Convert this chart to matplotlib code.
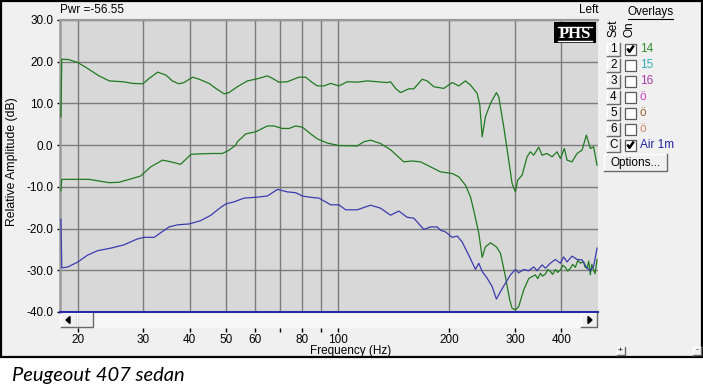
import matplotlib
matplotlib.use('Agg')
import matplotlib.pyplot as plt
from matplotlib.patches import Rectangle, Polygon
from matplotlib.ticker import NullLocator, FixedLocator, FixedFormatter

# ---------------- data ----------------
freq_a = [18.0, 18.1, 18.2, 18.9, 20.0, 21.4, 22.8, 24.3, 26.4, 28.1, 29.9, 31.1, 32.8, 34.5,
          35.9, 37.4, 38.6, 40.7, 42.4, 45.1, 47.0, 49.5, 51.0, 53.7, 57.2, 60.8, 64.7, 66.8,
          69.5, 73.2, 78.7, 82.0, 85.5, 88.2, 91.9, 95.8, 100.8, 106.2, 112.9, 120.2, 127.8,
          136.0, 138.8, 143.2, 147.7, 155.5, 160.3, 168.9, 174.2, 181.5, 193.1, 203.4, 211.9,
          220.8, 227.8, 237.4, 241.3, 244.9, 249.9, 257.8, 267.5, 271.4, 279.9, 286.9, 294.8,
          300.9, 305.2, 313.6, 323.5, 330.1, 337.0, 347.6, 355.0, 366.1, 377.7, 389.5, 397.6,
          407.5, 414.4, 427.4, 440.9, 454.7, 467.1, 478.7, 488.6, 499.0]
db_a = [6.8, 20.6, 20.6, 20.5, 19.8, 18.2, 16.6, 15.4, 15.2, 14.8, 14.7, 16.0, 17.5, 16.8,
        15.4, 14.7, 15.0, 16.3, 15.8, 14.8, 13.6, 12.3, 12.6, 14.0, 15.4, 15.9, 16.6, 16.0,
        15.1, 15.2, 16.3, 16.3, 15.0, 14.2, 14.2, 14.8, 14.2, 15.2, 15.1, 15.4, 15.2,
        15.0, 15.2, 13.6, 12.6, 13.5, 13.5, 15.8, 15.4, 14.0, 13.6, 15.0, 14.2,
        15.4, 14.4, 12.4, 9.6, 2.0, 6.8, 10.0, 12.6, 11.6, 4.4, -2.0, -9.2,
        -11.2, -8.4, -7.2, -2.8, -1.6, -2.4, -0.5, -2.4, -2.0, -2.8, -1.6, -3.2,
        -0.8, -3.6, -4.0, -2.0, -1.2, 2.4, -0.8, -0.4, -4.8]

freq_b = [18.0, 18.1, 18.2, 21.4, 22.8, 24.3, 25.8, 27.5, 29.5, 31.4, 33.8, 35.6, 37.8, 40.3,
          42.4, 46.0, 49.0, 51.0, 53.2, 53.7, 56.6, 60.2, 64.7, 67.4, 71.0, 74.0, 77.1, 80.4,
          84.6, 88.2, 93.8, 100.8, 112.9, 117.6, 122.6, 130.4, 138.8, 150.7, 158.8, 167.1,
          177.8, 189.2, 203.4, 211.9, 220.8, 227.8, 232.4, 239.8, 244.9, 249.9, 257.8, 267.5,
          274.3, 282.8, 290.5, 294.8, 300.9, 307.1, 316.8, 326.7, 333.7, 340.6, 345.5, 351.3,
          356.0, 362.3, 368.0, 373.7, 379.0, 385.4, 391.0, 397.6, 404.0, 410.1, 416.0, 423.0,
          429.0, 436.3, 443.0, 450.1, 459.3, 463.0, 469.1, 474.0, 478.7, 483.0, 488.6, 493.0,
          499.0]
db_b = [-10.9, -8.2, -8.2, -8.2, -8.6, -9.0, -8.9, -8.2, -7.4, -5.2, -3.6, -4.0, -4.6, -2.2,
        -2.1, -2.0, -2.0, -1.2, 0.0, 0.8, 2.7, 3.2, 4.6, 4.6, 4.0, 4.0, 4.6, 4.3,
        2.7, 1.5, 0.5, -0.1, -0.2, 0.8, 1.2, 0.4, -1.1, -4.0, -3.8, -4.0,
        -5.2, -6.4, -6.8, -7.6, -9.6, -12.4, -15.6, -21.1, -26.9, -24.4, -23.4, -24.4,
        -25.9, -31.5, -37.1, -39.1, -39.5, -38.7, -34.7, -32.0, -31.5, -31.1, -32.0, -30.7,
        -31.4, -30.9, -29.8, -30.3, -31.0, -29.8, -30.5, -29.9, -28.8, -29.3, -30.2, -29.5,
        -28.6, -29.3, -27.6, -28.3, -27.9, -29.2, -29.5, -27.8, -31.1, -28.6, -29.9, -30.8,
        -27.4]

freq_c = [18.0, 18.1, 18.2, 18.8, 20.0, 21.2, 22.6, 24.5, 26.6, 28.9, 30.1, 32.1, 33.4, 35.2,
          37.1, 39.8, 42.8, 45.6, 48.0, 50.0, 52.6, 56.0, 60.2, 64.7, 68.9, 73.2, 77.1, 80.4,
          84.6, 89.1, 95.8, 100.8, 105.1, 112.9, 122.6, 130.4, 138.8, 146.1, 153.9, 160.3,
          170.6, 177.8, 185.3, 189.2, 195.1, 203.4, 209.8, 216.3, 225.4, 234.9, 239.8, 244.9,
          252.6, 260.5, 267.5, 274.3, 282.8, 291.8, 300.9, 307.1, 316.8, 326.7, 337.0, 344.2,
          355.0, 362.3, 373.7, 385.4, 397.6, 405.8, 414.4, 427.4, 440.9, 454.7, 469.1, 478.7,
          488.6, 499.0]
db_c = [-17.8, -29.4, -29.4, -29.2, -28.0, -26.4, -25.3, -24.7, -23.9, -22.5, -22.1, -22.1,
        -21.0, -19.6, -19.1, -18.9, -18.1, -16.8, -15.2, -14.1, -13.6, -12.7, -12.5, -12.2,
        -10.6, -11.2, -11.4, -12.2, -12.5, -12.7, -14.3, -14.3, -15.5, -15.5, -14.4, -15.1,
        -16.8, -15.8, -17.3, -17.5, -20.2, -19.6, -19.6, -20.4, -20.8, -22.1, -21.8, -23.2,
        -26.4, -29.8, -28.3, -30.3, -31.9, -33.9, -36.9, -35.1, -33.1, -31.1, -29.8, -30.6,
        -29.8, -30.1, -29.2, -30.1, -28.7, -29.5, -28.3, -27.4, -28.3, -26.8, -28.0, -26.6,
        -27.4, -27.5, -29.5, -30.1, -29.0, -24.7]

x_ticks = [20, 30, 40, 50, 60, 70, 80, 90, 100, 200, 300, 400]
x_labels = ['20', '30', '40', '50', '60', '', '80', '', '100', '200', '300', '400']
y_ticks = [-40, -30, -20, -10, 0, 10, 20, 30]

overlay_sets = ['1', '2', '3', '4', '5', '6', 'C']
overlay_names = ['14', '15', '16', '\u00f6', '\u00f6', '\u00f6', 'Air 1m']
overlay_on = [True, False, False, False, False, False, True]
overlay_colors = ['#2f8f2f', '#30aeb0', '#a63aa6', '#cc44cc', '#9a6030', '#d08a68', '#2323a0']

GREEN = '#1f7a1f'
BLUE = '#3b3bb0'
FONT = 'Liberation Sans'

# ---------------- figure ----------------
W, H = 703, 392
plt.rcParams['font.family'] = [FONT, 'DejaVu Sans']
fig = plt.figure(figsize=(W / 100, H / 100), dpi=100)
fig.patch.set_facecolor('white')

bg = fig.add_axes([0, 0, 1, 1], zorder=0)
bg.set_xlim(0, W)
bg.set_ylim(H, 0)
bg.axis('off')

# window panel
bg.add_patch(Rectangle((0.8, 0.8), 701.0, 356.0, facecolor='#F0F0F0',
                       edgecolor='black', lw=1.6))

# scrollbar
bg.add_patch(Rectangle((60, 312), 538, 16, facecolor='#F7F7F7', edgecolor='none'))


def raised(x0, y0, w, h, face='#F0F0F0'):
    bg.add_patch(Rectangle((x0, y0), w, h, facecolor=face, edgecolor='none'))
    bg.plot([x0, x0, x0 + w], [y0 + h, y0, y0], color='white', lw=1.0)
    bg.plot([x0, x0 + w, x0 + w], [y0 + h, y0 + h, y0], color='#6a6a6a', lw=1.0)


raised(61, 313, 16, 14)
bg.add_patch(Polygon([[66, 320], [70, 316.5], [70, 323.5]], closed=True, color='black'))
raised(77, 313, 16, 14)
raised(581, 313, 16, 14)
bg.add_patch(Polygon([[592, 320], [588, 316.5], [588, 323.5]], closed=True, color='black'))

# ---------------- main axes ----------------
ax = fig.add_axes([60 / W, 1 - 312 / H, 538 / W, 292 / H], zorder=2)
ax.set_facecolor('#D8D8D8')
ax.set_xscale('log')
ax.set_xlim(17.9, 502)
ax.set_ylim(-40, 30)

ax.xaxis.set_major_locator(FixedLocator(x_ticks))
ax.xaxis.set_major_formatter(FixedFormatter(x_labels))
ax.xaxis.set_minor_locator(NullLocator())
ax.set_yticks(y_ticks)
ax.set_yticklabels([f'{v:.1f}' for v in y_ticks])

ax.grid(True, which='major', color='#7c7c7c', lw=1.0)
ax.set_axisbelow(True)

ax.tick_params(axis='x', length=0, pad=15.5, labelsize=8.5, colors='black')
ax.tick_params(axis='y', length=2.5, width=1.0, pad=2.5, labelsize=8.5, colors='black')

for s in ['right', 'bottom']:
    ax.spines[s].set_visible(False)
ax.spines['left'].set_color('#9a9a9a')
ax.spines['left'].set_linewidth(1.8)
ax.spines['top'].set_color('#9a9a9a')
ax.spines['top'].set_linewidth(1.6)

ax.plot(freq_a, db_a, color=GREEN, lw=0.9, zorder=3)
ax.plot(freq_b, db_b, color=GREEN, lw=0.9, zorder=3)
ax.plot(freq_c, db_c, color=BLUE, lw=0.9, zorder=4)
ax.axhline(-40, color='#2a2aa8', lw=1.5, clip_on=False, zorder=5)

# small x tick marks below the scrollbar
ax.vlines(x_ticks, -0.056, -0.068, transform=ax.get_xaxis_transform(),
          color='black', lw=1.0, clip_on=False)

# ---------------- texts ----------------
bg.text(60, 10, 'Pwr =-56.55', fontsize=8.5, ha='left', va='center')
bg.text(598, 9.5, 'Left', fontsize=8.5, ha='right', va='center')
bg.text(351, 351, 'Frequency (Hz)', fontsize=8.5, ha='center', va='center')
bg.text(12, 162, 'Relative Amplitude (dB)', fontsize=8.8, rotation=90,
        ha='center', va='center')

# PHS logo
ax_logo = fig.add_axes([0, 0, 1, 1], zorder=6)
ax_logo.set_xlim(0, W)
ax_logo.set_ylim(H, 0)
ax_logo.axis('off')
ax_logo.add_patch(Rectangle((554, 22), 42, 21, facecolor='black', edgecolor='none'))
ax_logo.plot([558, 592], [26.5, 26.5], color='white', lw=1.0)
ax_logo.plot([558, 592], [40.5, 40.5], color='white', lw=1.0)
ax_logo.text(575, 33.8, 'PHS', color='white', fontsize=12, fontweight='bold',
             family='Liberation Serif', ha='center', va='center')

# Overlays panel
bg.text(650.5, 12, 'Overlays', fontsize=8.5, ha='center', va='center')
bg.plot([628, 673], [18.5, 18.5], color='black', lw=0.8)
bg.text(613.5, 37, 'Set', fontsize=8.5, rotation=90, ha='center', va='bottom')
bg.text(629.5, 37, 'On', fontsize=8.5, rotation=90, ha='center', va='bottom')

row_y = [49, 65, 81, 97, 113, 129, 145]
for sy, name, on, col, yy in zip(overlay_sets, overlay_names, overlay_on,
                                 overlay_colors, row_y):
    raised(607, yy - 6.5, 13, 13)
    bg.text(613.5, yy + 0.3, sy, fontsize=8.5, ha='center', va='center')
    bg.add_patch(Rectangle((625, yy - 5.5), 11, 11, facecolor='white',
                           edgecolor='#5a5a5a', lw=0.9))
    if on:
        bg.plot([627.3, 629.5, 633.8], [yy - 0.5, yy + 2.8, yy - 3.5],
                color='black', lw=1.8, solid_capstyle='butt')
    bg.text(640, yy + 0.3, name, fontsize=8.5, ha='left', va='center', color=col)

raised(604, 154, 63, 17)
bg.text(635.5, 162.5, 'Options...', fontsize=8.5, ha='center', va='center')

# tiny +/- buttons bottom right
raised(616.5, 346.5, 8, 8)
bg.text(620.5, 350.5, '+', fontsize=6, ha='center', va='center')
raised(692.5, 346.5, 8, 8)
bg.text(696.5, 350.2, '-', fontsize=6, ha='center', va='center')

# caption
fig.text(12 / W, 1 - 376 / H, 'Peugeout 407 sedan', fontsize=14.5, style='italic',
         family=['Lato', 'DejaVu Sans'], ha='left', va='center')

fig.savefig('out.png', dpi=100, facecolor='white')
